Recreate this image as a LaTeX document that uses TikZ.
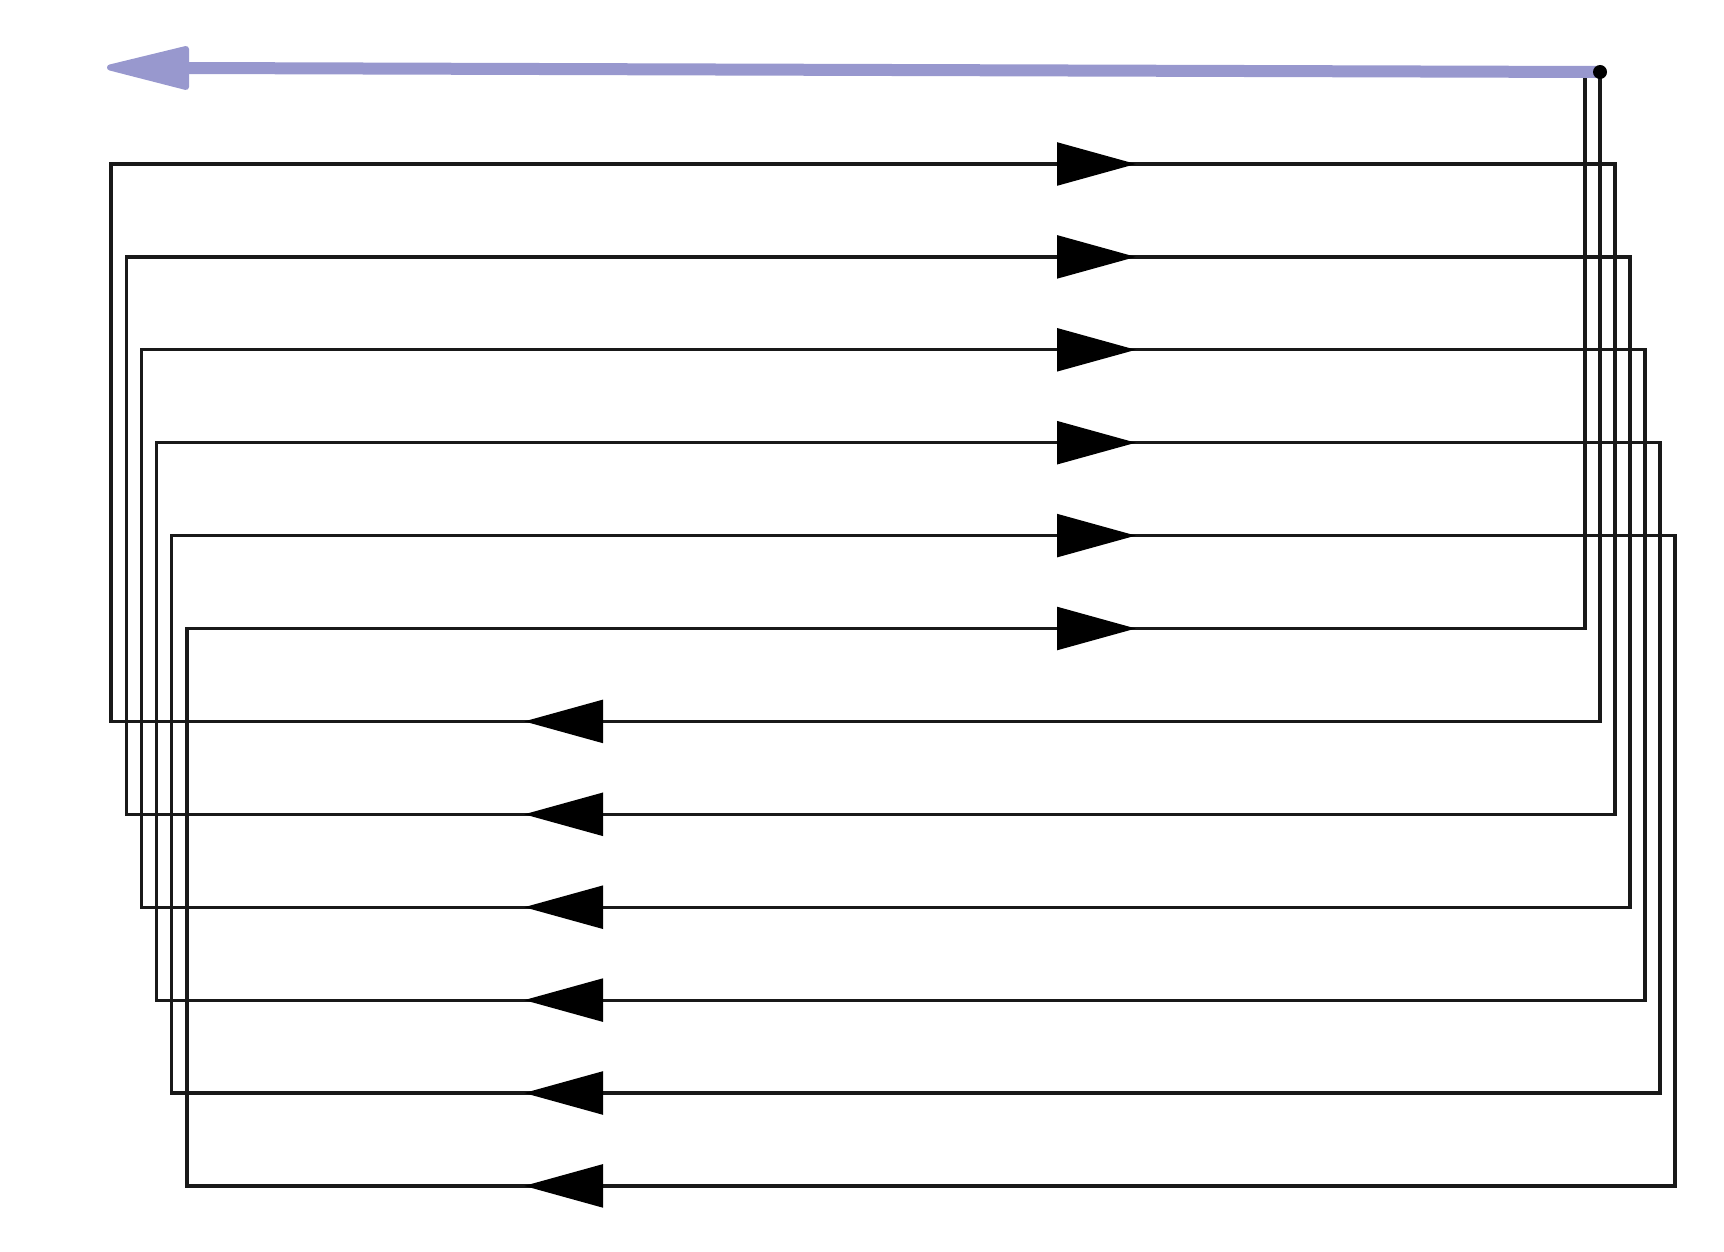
\documentclass[tikz,border=0pt]{standalone}
\usetikzlibrary{arrows.meta}
\definecolor{helixblue}{RGB}{152,152,206}
\tikzset{
  coil/.style={draw=black!90, line width=3.2pt, line join=miter},
  tipfill/.style={fill=black, draw=black, line width=2pt, line join=miter},
  axisline/.style={draw=helixblue, line width=12pt},
  axistip/.style={fill=helixblue, draw=helixblue, line width=6pt, line join=round}
}
\begin{document}
\begin{tikzpicture}[x=1pt,y=-1pt]
\useasboundingbox (0,0) rectangle (1724,1252);
% y levels Y_k = 164 + 92.9 k
\coordinate (start) at (1600,72);
\coordinate (end) at (1585,72);
\path[coil] (start)
  -- (1600,721.4) -- (111,721.4) -- (111,164) -- (1615,164)
  -- (1615,814.3) -- (126.2,814.3) -- (126.2,256.9) -- (1630,256.9)
  -- (1630,907.2) -- (141.4,907.2) -- (141.4,349.8) -- (1645,349.8)
  -- (1645,1000.1) -- (156.6,1000.1) -- (156.6,442.7) -- (1660,442.7)
  -- (1660,1093) -- (171.8,1093) -- (171.8,535.6) -- (1675,535.6)
  -- (1675,1185.9) -- (187,1185.9) -- (187,628.5) -- (1585,628.5)
  -- (end);
\foreach \k in {0,...,5}{
  \pgfmathsetmacro{\yy}{164+92.9*\k}
  \filldraw[tipfill] (1058,\yy-20.5) -- (1132,\yy) -- (1058,\yy+20.5) -- cycle;
}
\foreach \k in {6,...,11}{
  \pgfmathsetmacro{\yy}{164+92.9*\k}
  \filldraw[tipfill] (602,\yy-20.5) -- (528,\yy) -- (602,\yy+20.5) -- cycle;
}
\coordinate (axisback) at (186,68);
\coordinate (axisend) at (110,67.5);
\draw[axisline] (1596,72) -- (axisback);
\filldraw[axistip] (axisend) -- (186,49) -- (186,87) -- cycle;
\node[circle, fill=black, inner sep=0pt, minimum size=14pt] (dot) at (start) {};
\end{tikzpicture}
\end{document}
